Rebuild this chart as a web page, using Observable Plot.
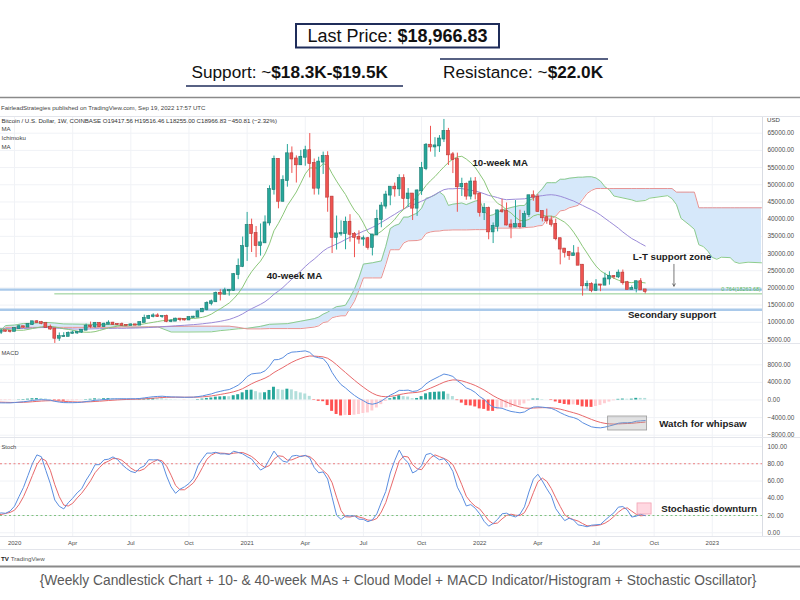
<!DOCTYPE html>
<html>
<head>
<meta charset="utf-8">
<script src="https://cdn.jsdelivr.net/npm/d3@7"></script>
<script src="https://cdn.jsdelivr.net/npm/@observablehq/plot@0.6"></script>
<style>
html,body{margin:0;padding:0;background:#fff;}
#page{position:relative;width:800px;height:600px;overflow:hidden;background:#fff;}
.panel{position:absolute;left:0;line-height:0;}
.panel svg{display:block;}
#overlay{position:absolute;left:0;top:0;pointer-events:none;}
</style>
</head>
<body>
<div id="page"></div>
<script>
// ---------------- DATA (weekly BTC/USD, Coinbase; first 13 weeks are indicator warm-up, off-screen) ----------------
const firstWeek = "2019-09-16";
const opens = [10300,10020,8050,7860,8290,8230,9550,9200,9040,8500,7050,7420,7510,
7120,7510,7390,7350,8180,8700,8600,9330,10140,9900,9670,8530,8040,5360,5830,5880,6770,6900,7120,7700,
8890,8720,9670,8720,9450,9750,9380,9300,9120,9080,9250,9170,9930,11100,11680,11860,11650,11700,10250,10330,
10920,10770,10670,11390,11500,13030,13760,15480,15960,18410,18180,19150,19270,23860,26250,32000,38150,35800,32300,33100,
38900,48600,57400,45200,51200,59000,57500,55800,58000,59900,56200,49000,56600,58200,46400,34700,35700,35800,39100,35600,
34700,34200,34300,31800,35400,39900,43800,47000,49300,48800,51800,46000,47300,43200,48200,54700,61500,61000,61300,63300,
65500,58700,57300,49400,50100,46700,50800,47300,41900,43100,36300,37900,42400,42200,38300,37700,38400,37800,41300,46800,
46400,42200,40400,39500,38500,34300,31300,30300,29400,29900,26600,20600,21000,19300,20850,20800,22600,23300,23200,24300,
21500,19550,19800,21800,19417.56];
const highs = [10350,10050,8500,8800,8420,10350,9800,9500,9100,8550,7850,7750,7700,
7520,7700,7500,8450,9190,8780,9550,10160,10500,10250,9680,9190,8180,6900,6970,7200,7470,7300,7720,9480,
10070,9950,9890,9750,10430,9990,9590,9800,9300,9470,9350,10000,12080,12000,12480,12480,11800,12090,10800,11180,
10990,10960,11490,11730,13350,14070,15960,16480,18800,19480,19920,19420,24200,28400,34800,41950,40000,37850,38600,40950,
49700,58350,57500,52600,61700,61000,58400,60000,61200,64900,57500,58000,59500,59600,46600,40900,39500,40600,41300,36100,
36600,35100,34700,35400,42600,44800,48100,49300,50500,52900,52900,48900,47300,48500,56500,62000,67000,63700,64300,69000,
66400,59400,59200,51900,50500,52000,52100,47600,44500,43500,38900,42600,45800,44700,39800,45400,42600,42300,46900,48200,
47200,42400,42900,40800,40000,34500,31400,30600,32300,31800,26800,22000,21500,22400,21000,24300,24700,23600,25200,25200,
21900,20600,21900,22700,19516.46];
const lows = [9650,7700,7720,7780,7880,7300,8980,8670,8350,6800,6520,7150,7030,
6430,7140,6870,7350,8100,8240,8550,9150,9700,9280,8450,7650,3850,4450,5670,5860,6600,6460,6800,7650,
8100,8200,8650,8640,9280,9100,9200,8830,8900,9050,9000,9150,9920,10960,11280,11400,11150,9880,9880,10250,
10150,10380,10530,11200,11400,12900,13300,14800,15800,16200,18000,17600,19000,22400,25900,27700,30300,28800,29250,33100,
38000,47000,43000,45000,49300,53300,50500,55600,55400,52000,47000,47000,53000,42000,30000,31000,35000,31100,33300,28800,
32700,32100,31000,29300,35200,37500,42900,43900,46400,46600,42800,43400,39600,40800,46900,54100,59500,58000,59400,62300,
55600,53250,42000,46600,45500,45600,45600,40600,39600,34000,32900,36300,41700,38000,34300,37500,37200,37600,40500,45200,
42000,39200,38500,37700,33700,26700,28700,28000,29300,26600,17600,19600,18600,19000,18900,20800,20800,22500,22700,20800,
19500,19550,18540,19400,18255.00];
const closes = [10020,8050,7860,8290,8230,9550,9200,9040,8500,7050,7420,7510,7120,
7510,7390,7350,8180,8700,8600,9330,10140,9900,9670,8530,8040,5360,5830,5880,6770,6900,7120,7700,8890,
8720,9670,8720,9450,9750,9380,9300,9120,9080,9250,9170,9930,11100,11680,11860,11650,11700,10250,10330,10920,
10770,10670,11390,11500,13030,13760,15480,15960,18410,18180,19150,19270,23860,26250,32000,38150,35800,32300,33100,38900,
48600,57400,45200,51200,59000,57500,55800,58000,59900,56200,49000,56600,58200,46400,34700,35700,35800,39100,35600,34700,
34200,34300,31800,35400,39900,43800,47000,49300,48800,51800,46000,47300,43200,48200,54700,61500,61000,61300,63300,65500,
58700,57300,49400,50100,46700,50800,47300,41900,43100,36300,37900,42400,42200,38300,37700,38400,37800,41300,46800,46400,
42200,40400,39500,38500,34300,31300,30300,29400,29900,26600,20600,21000,19300,20850,20800,22600,23300,23200,24300,21500,
19550,19800,21800,19418,18966.83];

// Ichimoku cloud (leading spans, plotted 26 weeks ahead)
const cloudDates = ["2019-12-16","2019-12-23","2020-01-06","2020-01-20","2020-02-03","2020-02-24","2020-03-09","2020-03-23","2020-04-06","2020-04-27",
"2020-05-25","2020-06-08","2020-06-22","2020-07-06","2020-07-20","2020-08-03","2020-08-17","2020-09-07","2020-10-05","2020-11-09",
"2020-11-23","2020-12-07","2020-12-21","2021-01-04","2021-01-25","2021-02-08","2021-03-08","2021-03-29","2021-04-19","2021-04-26",
"2021-05-03","2021-05-10","2021-05-17","2021-05-24","2021-05-31","2021-06-07","2021-06-14","2021-06-21","2021-06-28","2021-07-05",
"2021-07-19","2021-08-02","2021-08-09","2021-08-16","2021-08-23","2021-08-30","2021-09-06","2021-09-13","2021-09-27","2021-10-04",
"2021-10-11","2021-10-18","2021-10-25","2021-11-01","2021-11-08","2021-11-15","2021-11-22","2021-12-06","2021-12-13","2021-12-27",
"2022-01-03","2022-01-10","2022-01-17","2022-01-24","2022-02-07","2022-02-21","2022-03-07","2022-03-14","2022-03-21","2022-03-28",
"2022-04-04","2022-04-11","2022-04-18","2022-04-25","2022-05-02","2022-05-09","2022-05-16","2022-05-23","2022-06-06","2022-06-13",
"2022-06-20","2022-06-27","2022-07-04","2022-07-11","2022-07-18","2022-07-25","2022-08-01","2022-08-29","2022-09-05","2022-09-19",
"2022-09-26","2022-10-24","2022-10-31","2022-11-07","2022-11-14","2022-11-28","2022-12-05","2022-12-12","2022-12-19","2022-12-26",
"2023-01-02","2023-01-09","2023-01-16","2023-01-30","2023-02-06","2023-02-13","2023-02-27","2023-03-20"];
const spanA = [7700,9050,9180,9650,9700,9970,9795,9520,9480,9430,
9320,9320,8890,8565,8590,8620,8690,7175,7175,7220,
7570,7810,8110,8245,8815,9410,9600,10325,11060,11500,
12360,12940,13800,14545,14700,14970,17160,19650,22975,26925,
27300,27845,32070,37245,38120,38570,40590,40590,41760,43150,
46050,46425,47025,47900,46900,44000,44350,44700,44225,45250,
45525,42275,40950,41275,42650,43375,43975,43975,45450,46025,
47450,48825,50600,50600,50600,51600,51600,51900,52200,52200,
52325,52325,51975,51075,49400,48500,46725,45600,45150,45425,
46100,46825,45950,44200,40250,38175,37025,32550,32025,30700,
28875,28325,28925,28800,27550,27150,27475,27300];
const spanB = [7175,8515,8515,8515,8515,8515,8515,8515,8515,8515,
8515,8515,8615,8615,8615,8650,8650,8790,8865,8865,
8865,8865,8525,8075,8075,8165,8165,8165,8600,8960,
9905,10165,11325,11665,11885,11885,14025,16125,19325,22900,
22900,22900,26775,31100,31100,31100,33075,33685,33780,34080,
35850,36275,36500,36550,36770,36800,36865,36865,36865,36950,
36950,36950,36950,37390,37390,37390,37400,37525,37640,37715,
38050,38150,39950,40150,40900,42400,42600,43300,44000,45700,
47450,48350,48900,48900,48900,48900,48900,48900,48900,48900,
48900,48900,48900,47850,47850,47850,47850,43300,43300,43300,
43300,43300,43300,43300,43300,43300,43300,43300];

// Horizontal levels and ticks
const supportLevels = [19500, 13630];
const fibLevel = 18263.68;
const fibStart = "2020-03-09";
const priceTicks = [5000,10000,15000,20000,25000,30000,35000,40000,45000,50000,55000,60000,65000];
const macdTicks = [-8000,-4000,0,4000,8000];
const stochTicks = [0,20,40,60,80,100];
const stochBands = [80, 20];
const xTickDates = ["2020-01-06","2020-04-06","2020-07-06","2020-10-05","2021-01-04","2021-04-05","2021-07-05","2021-10-04","2022-01-03","2022-04-04","2022-07-04","2022-10-03","2023-01-02"];
const xTickLabels = ["2020","Apr","Jul","Oct","2021","Apr","Jul","Oct","2022","Apr","Jul","Oct","2023"];

// ---------------- DERIVED ----------------
const DAY = 864e5;
const T0 = new Date(firstWeek).getTime();
const weeks = closes.map((_, i) => new Date(T0 + i * 7 * DAY));
const firstVisible = 13;
const bars = weeks.map((date, i) => ({date, i, o: opens[i], h: highs[i], l: lows[i], c: closes[i]}));
const visible = bars.filter(d => d.i >= firstVisible);

const win = (arr, k, i) => arr.slice(Math.max(0, i - k + 1), i + 1);
const ma10 = closes.map((_, i) => d3.mean(win(closes, 10, i)));
const ma40 = closes.map((_, i) => d3.mean(win(closes, 40, i)));
const ema = (arr, n) => { const a = 2 / (n + 1), out = []; arr.forEach((v, i) => out.push(i === 0 ? v : a * v + (1 - a) * out[i - 1])); return out; };
const e12 = ema(closes, 12), e26 = ema(closes, 26);
const macd = e12.map((v, i) => v - e26[i]);
const signal = ema(macd, 9);
const hist = macd.map((v, i) => v - signal[i]);
const rawK = closes.map((c, i) => { const lo = d3.min(win(lows, 14, i)), hi = d3.max(win(highs, 14, i)); return 100 * (c - lo) / (hi - lo); });
const stochK = rawK.map((_, i) => d3.mean(win(rawK, 3, i)));
const stochD = stochK.map((_, i) => d3.mean(win(stochK, 3, i)));

const ind = weeks.map((date, i) => ({date, i, ma10: ma10[i], ma40: ma40[i], macd: macd[i], signal: signal[i], hist: hist[i], prev: i > 0 ? hist[i - 1] : hist[i], k: stochK[i], d: stochD[i]})).filter(d => d.i >= firstVisible - 1);
const cloud = cloudDates.map((s, i) => ({date: new Date(s), a: spanA[i], b: spanB[i]}));
const xTicks = xTickDates.map(s => new Date(s));

// ---------------- LAYOUT ----------------
const X0 = new Date(Date.UTC(2019, 11, 15)), X1 = new Date(Date.UTC(2023, 2, 21, 14));
const FONT = "'Liberation Sans', Arial, Helvetica, sans-serif";
const GRID = "#f0f2f6";
const AX = "#4d4d4d";
const upCol = "#26a69a", dnCol = "#ef5350";
const HALF = 2.3 * DAY;
const D = s => new Date(s);
const styleBase = {fontFamily: FONT, fontSize: "6.4px", background: "transparent", color: AX};
const xS = {type: "utc", domain: [X0, X1], axis: null};
const tickLabel = v => (v < 0 ? "\u2212" : "") + Math.abs(v).toFixed(2);
const yLabels = (ticks) => Plot.text(ticks, {x: () => X1, y: d => d, text: d => tickLabel(d), dx: 5, textAnchor: "start", fill: AX, fontSize: 6.4, fontFamily: FONT});
const annot = (txt, date, val, anchor) => Plot.text([txt], {x: () => D(date), y: () => val, text: d => d, textAnchor: anchor, fill: "#1c1c1c", fontSize: 9.7, fontWeight: "bold", fontFamily: FONT});

const page = d3.select("#page");
function addPanel(svg, top) { const div = page.append("div").attr("class", "panel").style("top", top + "px"); div.node().appendChild(svg); }

// Price panel: y 116 -> 343
const pricePlot = Plot.plot({
  width: 800, height: 227, marginLeft: 0, marginRight: 38, marginTop: 0, marginBottom: 0,
  style: styleBase, x: xS, y: {domain: [3828, 69855], axis: null},
  marks: [
    Plot.ruleY(priceTicks, {stroke: GRID}),
    Plot.ruleX(xTicks, {stroke: GRID}),
    Plot.areaY(cloud, {x: "date", y1: "a", y2: "b", fill: "#d6e8fa"}),
    Plot.line(cloud, {x: "date", y: "a", stroke: "#8dcc8d", strokeWidth: 1}),
    Plot.line(cloud, {x: "date", y: "b", stroke: "#e79393", strokeWidth: 1}),
    Plot.ruleY(supportLevels, {stroke: "#a9c9ea", strokeWidth: 2.4}),
    Plot.ruleY([fibLevel], {x1: () => D(fibStart), x2: () => X1, stroke: "#8ecb8e", strokeWidth: 1}),
    Plot.text(["0.764(18263.68)"], {x: () => D("2023-03-19"), y: () => fibLevel, text: d => d, dy: -4.5, textAnchor: "end", fill: "#5cb85c", fontSize: 5.4, fontFamily: FONT}),
    Plot.line(ind, {x: "date", y: "ma40", stroke: "#9b8bd8", strokeWidth: 1, clip: true}),
    Plot.line(ind, {x: "date", y: "ma10", stroke: "#8cc77a", strokeWidth: 1, clip: true}),
    Plot.ruleX(visible, {x: "date", y1: "l", y2: "h", stroke: d => d.c >= d.o ? upCol : dnCol, strokeWidth: 1}),
    Plot.rect(visible, {x1: d => new Date(+d.date - HALF), x2: d => new Date(+d.date + HALF), y1: d => Math.min(d.o, d.c), y2: d => Math.max(d.o, d.c), fill: d => d.c >= d.o ? upCol : dnCol, stroke: d => d.c >= d.o ? "#1a7a70" : "#b53a38", strokeWidth: 0.6, insetTop: -0.5, insetBottom: -0.5}),
    annot("10-week MA", "2022-02-04", 56330, "middle"),
    annot("40-week MA", "2021-03-19", 23607, "middle"),
    annot("L-T support zone", "2022-10-31", 28930, "middle"),
    annot("Secondary support", "2022-10-31", 12205, "middle"),
    Plot.arrow([0], {x1: () => D("2022-11-03"), x2: () => D("2022-11-03"), y1: () => 26850, y2: () => 20500, stroke: "#555", strokeWidth: 0.8, headLength: 5}),
    Plot.ruleX([X1], {stroke: "#d9dce3"}),
    yLabels(priceTicks)
  ]
});
addPanel(pricePlot, 116);

// MACD panel: y 343 -> 437
const macdPlot = Plot.plot({
  width: 800, height: 94, marginLeft: 0, marginRight: 38, marginTop: 0, marginBottom: 0,
  style: styleBase, x: xS, y: {domain: [-8523, 12841], axis: null},
  marks: [
    Plot.ruleY(macdTicks, {stroke: GRID}),
    Plot.ruleX(xTicks, {stroke: GRID}),
    Plot.rect(ind.filter(d => d.i >= firstVisible), {x1: d => new Date(+d.date - HALF), x2: d => new Date(+d.date + HALF), y1: () => 0, y2: "hist",
      fill: d => d.hist >= 0 ? (d.prev < d.hist ? "#26a69a" : "#b2dfdb") : (d.prev < d.hist ? "#ffcdd2" : "#ff5252")}),
    Plot.line(ind, {x: "date", y: "signal", stroke: "#e8696b", strokeWidth: 1, clip: true}),
    Plot.line(ind, {x: "date", y: "macd", stroke: "#5b8ee0", strokeWidth: 1, clip: true}),
    Plot.rect([0], {x1: () => D("2022-07-23"), x2: () => D("2022-09-22"), y1: () => -6930, y2: () => -3750, fill: "#9e9e9e", fillOpacity: 0.3, stroke: "#9a9a9a", strokeWidth: 0.8}),
    annot("Watch for whipsaw", "2022-10-11", -5340, "start"),
    Plot.ruleX([X1], {stroke: "#d9dce3"}),
    yLabels(macdTicks)
  ]
});
addPanel(macdPlot, 343);

// Stochastic panel: y 437 -> 536 (+ x axis to 550)
const stochPlot = Plot.plot({
  width: 800, height: 113, marginLeft: 0, marginRight: 38, marginTop: 0, marginBottom: 14,
  style: styleBase, x: xS, y: {domain: [-4.3, 110.4], axis: null},
  marks: [
    Plot.ruleY(stochTicks, {stroke: GRID}),
    Plot.ruleX(xTicks, {stroke: GRID}),
    Plot.ruleY([stochBands[0]], {stroke: "#ef7f7f", strokeWidth: 1, strokeDasharray: "2,2.5"}),
    Plot.ruleY([stochBands[1]], {stroke: "#7fc27f", strokeWidth: 1, strokeDasharray: "2,2.5"}),
    Plot.line(ind, {x: "date", y: "d", stroke: "#e8696b", strokeWidth: 1, clip: true}),
    Plot.line(ind, {x: "date", y: "k", stroke: "#5b8ee0", strokeWidth: 1, clip: true}),
    Plot.rect([0], {x1: () => D("2022-09-07"), x2: () => D("2022-09-29"), y1: () => 21.2, y2: () => 34, fill: "#ff8fa8", fillOpacity: 0.35, stroke: "#f2a0b2", strokeWidth: 0.8}),
    annot("Stochastic downturn", "2022-10-14", 28.2, "start"),
    Plot.ruleX([X1], {stroke: "#d9dce3"}),
    yLabels(stochTicks),
    Plot.text(xTicks, {x: d => d, y: () => -4.3, text: (d, i) => xTickLabels[i], dy: 6.5, textAnchor: "middle", fill: AX, fontSize: 6, fontFamily: FONT})
  ]
});
addPanel(stochPlot, 437);

// ---------------- OVERLAY (titles, frame, caption) ----------------
const svg = page.append("svg").attr("id", "overlay").attr("width", 800).attr("height", 600).style("font-family", FONT);
const navy = "#1f2d5a";
// Header
svg.append("rect").attr("x", 296).attr("y", 24).attr("width", 203).attr("height", 23.5).attr("fill", "#fff").attr("stroke", navy).attr("stroke-width", 2);
const t1 = svg.append("text").attr("x", 397.5).attr("y", 42).attr("text-anchor", "middle").attr("font-size", 18).attr("fill", "#111");
t1.append("tspan").text("Last Price: ");
t1.append("tspan").attr("font-weight", "bold").text("$18,966.83");
const t2 = svg.append("text").attr("x", 191.5).attr("y", 77.5).attr("font-size", 17.2).attr("fill", "#111");
t2.append("tspan").text("Support: ~");
t2.append("tspan").attr("font-weight", "bold").text("$18.3K-$19.5K");
svg.append("line").attr("x1", 186).attr("x2", 403).attr("y1", 86).attr("y2", 86).attr("stroke", navy).attr("stroke-width", 1.5);
const t3 = svg.append("text").attr("x", 443).attr("y", 77.5).attr("font-size", 17.2).attr("fill", "#111");
t3.append("tspan").text("Resistance: ~");
t3.append("tspan").attr("font-weight", "bold").text("$22.0K");
svg.append("line").attr("x1", 440).attr("x2", 608).attr("y1", 59).attr("y2", 59).attr("stroke", navy).attr("stroke-width", 1.5);

// TradingView frame
svg.append("line").attr("x1", 0).attr("x2", 800).attr("y1", 97.5).attr("y2", 97.5).attr("stroke", "#8a8a8a").attr("stroke-width", 1.6);
svg.append("text").attr("x", 1).attr("y", 110.3).attr("font-size", 6.1).attr("fill", "#444").text("FairleadStrategies published on TradingView.com, Sep 19, 2022 17:57 UTC");
[116, 343, 437, 536, 549].forEach(y => svg.append("line").attr("x1", 0).attr("x2", 800).attr("y1", y + 0.5).attr("y2", y + 0.5).attr("stroke", "#e3e5eb").attr("stroke-width", 1));
svg.append("text").attr("x", 1.5).attr("y", 123).attr("font-size", 6.1).attr("fill", "#333").text("Bitcoin / U.S. Dollar, 1W, COINBASE  O19417.56  H19516.46  L18255.00  C18966.83  \u2212450.81 (\u22122.32%)");
svg.append("text").attr("x", 1.5).attr("y", 130.6).attr("font-size", 6.1).attr("fill", "#444").text("MA");
svg.append("text").attr("x", 1.5).attr("y", 139.8).attr("font-size", 6.1).attr("fill", "#444").text("Ichimoku");
svg.append("text").attr("x", 1.5).attr("y", 148.8).attr("font-size", 6.1).attr("fill", "#444").text("MA");
svg.append("text").attr("x", 767).attr("y", 122).attr("font-size", 6.1).attr("fill", "#444").text("USD");
svg.append("text").attr("x", 1.5).attr("y", 355).attr("font-size", 5.8).attr("fill", "#444").text("MACD");
svg.append("text").attr("x", 1.5).attr("y", 449).attr("font-size", 5.8).attr("fill", "#444").text("Stoch");
const tv = svg.append("text").attr("x", 1).attr("y", 560.5).attr("font-size", 6.2).attr("fill", "#555");
tv.append("tspan").attr("font-weight", "bold").attr("fill", "#222").text("TV ");
tv.append("tspan").text("TradingView");
svg.append("line").attr("x1", 0).attr("x2", 800).attr("y1", 566.5).attr("y2", 566.5).attr("stroke", "#8a8a8a").attr("stroke-width", 1.8);
svg.append("text").attr("x", 398).attr("y", 584.5).attr("text-anchor", "middle").attr("font-size", 13.8).attr("fill", "#5a5a5a")
  .text("{Weekly Candlestick Chart + 10- & 40-week MAs + Cloud Model + MACD Indicator/Histogram + Stochastic Oscillator}");
</script>
</body>
</html>
